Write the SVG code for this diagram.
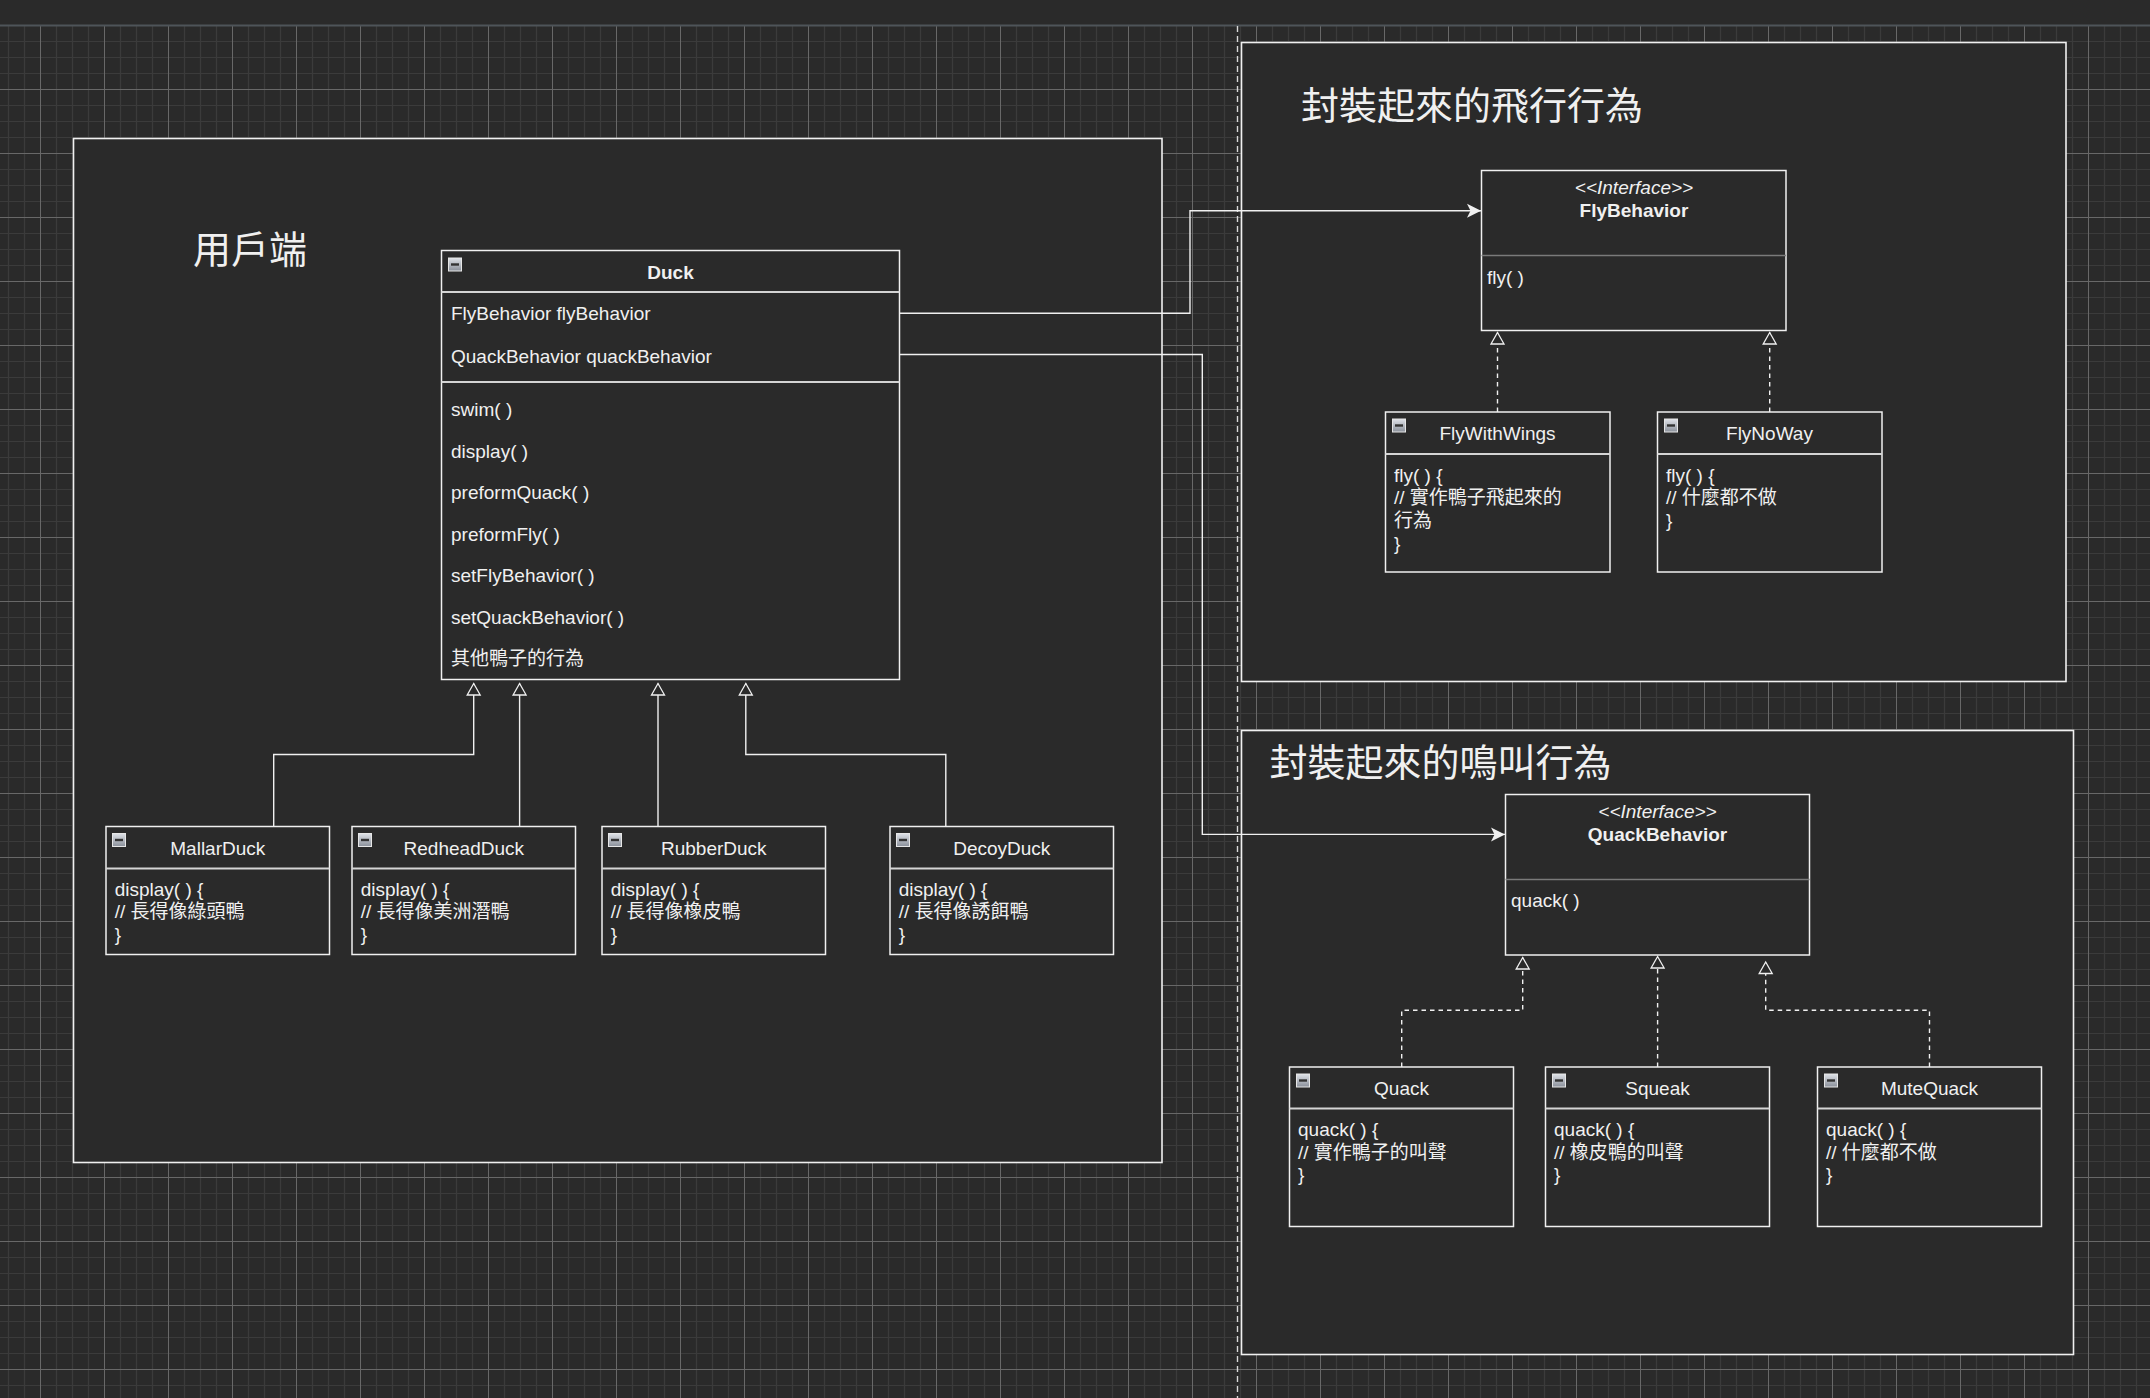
<svg xmlns="http://www.w3.org/2000/svg" xmlns:xlink="http://www.w3.org/1999/xlink" width="2150" height="1398" viewBox="0 0 2150 1398">
<style>
text{font-family:"Liberation Sans","Noto Sans CJK TC",sans-serif;fill:#f0f0f0;font-size:19px}
.big{font-size:38px}
.b{font-weight:bold}
.i{font-style:italic}
.c{text-anchor:middle}
.box{fill:#2a2a2a;stroke:#f0f0f0;stroke-width:1.5}
.cont{fill:#2a2a2a;stroke:#f0f0f0;stroke-width:1.6}
.div{stroke:#d4d4d4;stroke-width:1.8}
.idiv{stroke:#7a7a7a;stroke-width:1.5}
.conn{fill:none;stroke:#f0f0f0;stroke-width:1.4}
.dash{fill:none;stroke:#f0f0f0;stroke-width:1.4;stroke-dasharray:4.5 4}
</style>
<defs>
<pattern id="grid" patternUnits="userSpaceOnUse" x="40" y="25" width="64" height="64">
<path d="M16.5,0V64M32.5,0V64M48.5,0V64M0,16.5H64M0,32.5H64M0,48.5H64" stroke="#3b3b3b" stroke-width="1.2" fill="none"/>
<path d="M0.5,0V64M0,0.5H64" stroke="#686868" stroke-width="1" fill="none"/>
</pattern>
<linearGradient id="mg" x1="0" y1="0" x2="0" y2="1">
<stop offset="0" stop-color="#dfe2e8"/>
<stop offset="1" stop-color="#8a909a"/>
</linearGradient>
<g id="minus">
<rect x="0.5" y="0.5" width="13" height="13" fill="url(#mg)" stroke="#e6e6e6" stroke-width="1"/>
<line x1="3" y1="7" x2="11" y2="7" stroke="#333" stroke-width="2.4"/>
</g>
<marker id="tri" markerUnits="userSpaceOnUse" viewBox="-2 -2 16 17" refX="11.5" refY="6.5" markerWidth="16" markerHeight="17" orient="auto" overflow="visible">
<path d="M0,0 L11.5,6.5 L0,13 Z" fill="#2a2a2a" stroke="#f0f0f0" stroke-width="1.3" stroke-dasharray="none"/>
</marker>
<marker id="arr" markerUnits="userSpaceOnUse" viewBox="0 0 14 14" refX="14" refY="7" markerWidth="14" markerHeight="14" orient="auto" overflow="visible">
<path d="M0,0 L14,7 L0,14 L3.5,7 Z" fill="#f0f0f0" stroke="none"/>
</marker>
</defs>

<rect x="0" y="0" width="2150" height="1398" fill="#2a2a2a"/>
<rect x="0" y="25" width="2150" height="1373" fill="url(#grid)"/>
<line x1="0" y1="25.5" x2="2150" y2="25.5" stroke="#4e5459" stroke-width="2"/>
<line x1="1237.5" y1="26" x2="1237.5" y2="1398" stroke="#d8d8d8" stroke-width="1.4" stroke-dasharray="6 4"/>

<g id="client">
<rect class="cont" x="73.5" y="138.5" width="1088.5" height="1024"/>
<text class="big" x="193" y="263">用戶端</text>
</g>

<g id="fly-container">
<rect class="cont" x="1241.5" y="42.5" width="824.5" height="639"/>
<text class="big" x="1301" y="119">封裝起來的飛行行為</text>
</g>

<g id="quack-container">
<rect class="cont" x="1241.5" y="730.5" width="832" height="624"/>
<text class="big" x="1269.5" y="776">封裝起來的鳴叫行為</text>
</g>

<g id="connectors">
<path class="conn" d="M899.5,313.3H1190V210.7H1481" marker-end="url(#arr)"/>
<path class="conn" d="M899.5,354.5H1202.3V834.4H1505" marker-end="url(#arr)"/>
<path class="conn" d="M273.7,826.5V754.5H473.7V683.5" marker-end="url(#tri)"/>
<path class="conn" d="M519.6,826.5V683.5" marker-end="url(#tri)"/>
<path class="conn" d="M658,826.5V683.5" marker-end="url(#tri)"/>
<path class="conn" d="M945.8,826.5V754.5H745.8V683.5" marker-end="url(#tri)"/>
<path class="dash" d="M1497.5,412V332.5" marker-end="url(#tri)"/>
<path class="dash" d="M1769.7,412V332.5" marker-end="url(#tri)"/>
<path class="dash" d="M1401.7,1067V1010.3H1522.7V957.5" marker-end="url(#tri)"/>
<path class="dash" d="M1657.6,1067V956.5" marker-end="url(#tri)"/>
<path class="dash" d="M1929.5,1067V1010.3H1765.7V962" marker-end="url(#tri)"/>
</g>

<g id="duck">
<rect class="box" x="441.5" y="250.5" width="458" height="429"/>
<line class="div" x1="441.5" y1="292" x2="899.5" y2="292"/>
<line class="div" x1="441.5" y1="382" x2="899.5" y2="382"/>
<use xlink:href="#minus" x="448" y="257.5"/>
<text class="b c" x="670.5" y="279">Duck</text>
<text x="451" y="320">FlyBehavior flyBehavior</text>
<text x="451" y="362.5">QuackBehavior quackBehavior</text>
<text x="451" y="416">swim( )</text>
<text x="451" y="457.6">display( )</text>
<text x="451" y="499.2">preformQuack( )</text>
<text x="451" y="540.8">preformFly( )</text>
<text x="451" y="582.4">setFlyBehavior( )</text>
<text x="451" y="624">setQuackBehavior( )</text>
<text x="451" y="664.5">其他鴨子的行為</text>
</g>

<g id="mallarduck">
<rect class="box" x="106" y="826.5" width="223.5" height="128"/>
<line class="div" x1="106" y1="868.5" x2="329.5" y2="868.5"/>
<use xlink:href="#minus" x="112" y="833"/>
<text class="c" x="217.8" y="854.5">MallarDuck</text>
<text x="114.7" y="895.7">display( ) {</text>
<text x="114.7" y="918.4">// 長得像綠頭鴨</text>
<text x="114.7" y="941.1">}</text>
</g>

<g id="redheadduck">
<rect class="box" x="352" y="826.5" width="223.5" height="128"/>
<line class="div" x1="352" y1="868.5" x2="575.5" y2="868.5"/>
<use xlink:href="#minus" x="358" y="833"/>
<text class="c" x="463.8" y="854.5">RedheadDuck</text>
<text x="360.7" y="895.7">display( ) {</text>
<text x="360.7" y="918.4">// 長得像美洲潛鴨</text>
<text x="360.7" y="941.1">}</text>
</g>

<g id="rubberduck">
<rect class="box" x="602" y="826.5" width="223.5" height="128"/>
<line class="div" x1="602" y1="868.5" x2="825.5" y2="868.5"/>
<use xlink:href="#minus" x="608" y="833"/>
<text class="c" x="713.8" y="854.5">RubberDuck</text>
<text x="610.7" y="895.7">display( ) {</text>
<text x="610.7" y="918.4">// 長得像橡皮鴨</text>
<text x="610.7" y="941.1">}</text>
</g>

<g id="decoyduck">
<rect class="box" x="890" y="826.5" width="223.5" height="128"/>
<line class="div" x1="890" y1="868.5" x2="1113.5" y2="868.5"/>
<use xlink:href="#minus" x="896" y="833"/>
<text class="c" x="1001.8" y="854.5">DecoyDuck</text>
<text x="898.7" y="895.7">display( ) {</text>
<text x="898.7" y="918.4">// 長得像誘餌鴨</text>
<text x="898.7" y="941.1">}</text>
</g>

<g id="flybehavior">
<rect class="box" x="1481.5" y="170.5" width="304.5" height="160"/>
<line class="idiv" x1="1481.5" y1="255.5" x2="1786" y2="255.5"/>
<text class="i c" x="1634" y="194">&lt;&lt;Interface&gt;&gt;</text>
<text class="b c" x="1634" y="216.5">FlyBehavior</text>
<text x="1487" y="283.5">fly( )</text>
</g>

<g id="flywithwings">
<rect class="box" x="1385.5" y="412" width="224.5" height="160"/>
<line class="div" x1="1385.5" y1="454" x2="1610" y2="454"/>
<use xlink:href="#minus" x="1392" y="418.5"/>
<text class="c" x="1497.5" y="440">FlyWithWings</text>
<text x="1394" y="481.5">fly( ) {</text>
<text x="1394" y="504.2">// 實作鴨子飛起來的</text>
<text x="1394" y="526.9">行為</text>
<text x="1394" y="549.6">}</text>
</g>

<g id="flynoway">
<rect class="box" x="1657.5" y="412" width="224.5" height="160"/>
<line class="div" x1="1657.5" y1="454" x2="1882" y2="454"/>
<use xlink:href="#minus" x="1664" y="418.5"/>
<text class="c" x="1769.5" y="440">FlyNoWay</text>
<text x="1666" y="481.5">fly( ) {</text>
<text x="1666" y="504.2">// 什麼都不做</text>
<text x="1666" y="526.9">}</text>
</g>

<g id="quackbehavior">
<rect class="box" x="1505.5" y="794.5" width="304" height="160.5"/>
<line class="idiv" x1="1505.5" y1="879.5" x2="1809.5" y2="879.5"/>
<text class="i c" x="1657.5" y="818">&lt;&lt;Interface&gt;&gt;</text>
<text class="b c" x="1657.5" y="840.5">QuackBehavior</text>
<text x="1511" y="907">quack( )</text>
</g>

<g id="quack">
<rect class="box" x="1289.5" y="1067" width="224" height="159.5"/>
<line class="div" x1="1289.5" y1="1108.5" x2="1513.5" y2="1108.5"/>
<use xlink:href="#minus" x="1296" y="1073.5"/>
<text class="c" x="1401.5" y="1095">Quack</text>
<text x="1298" y="1136">quack( ) {</text>
<text x="1298" y="1158.7">// 實作鴨子的叫聲</text>
<text x="1298" y="1181.4">}</text>
</g>

<g id="squeak">
<rect class="box" x="1545.5" y="1067" width="224" height="159.5"/>
<line class="div" x1="1545.5" y1="1108.5" x2="1769.5" y2="1108.5"/>
<use xlink:href="#minus" x="1552" y="1073.5"/>
<text class="c" x="1657.5" y="1095">Squeak</text>
<text x="1554" y="1136">quack( ) {</text>
<text x="1554" y="1158.7">// 橡皮鴨的叫聲</text>
<text x="1554" y="1181.4">}</text>
</g>

<g id="mutequack">
<rect class="box" x="1817.5" y="1067" width="224" height="159.5"/>
<line class="div" x1="1817.5" y1="1108.5" x2="2041.5" y2="1108.5"/>
<use xlink:href="#minus" x="1824" y="1073.5"/>
<text class="c" x="1929.5" y="1095">MuteQuack</text>
<text x="1826" y="1136">quack( ) {</text>
<text x="1826" y="1158.7">// 什麼都不做</text>
<text x="1826" y="1181.4">}</text>
</g>
</svg>
